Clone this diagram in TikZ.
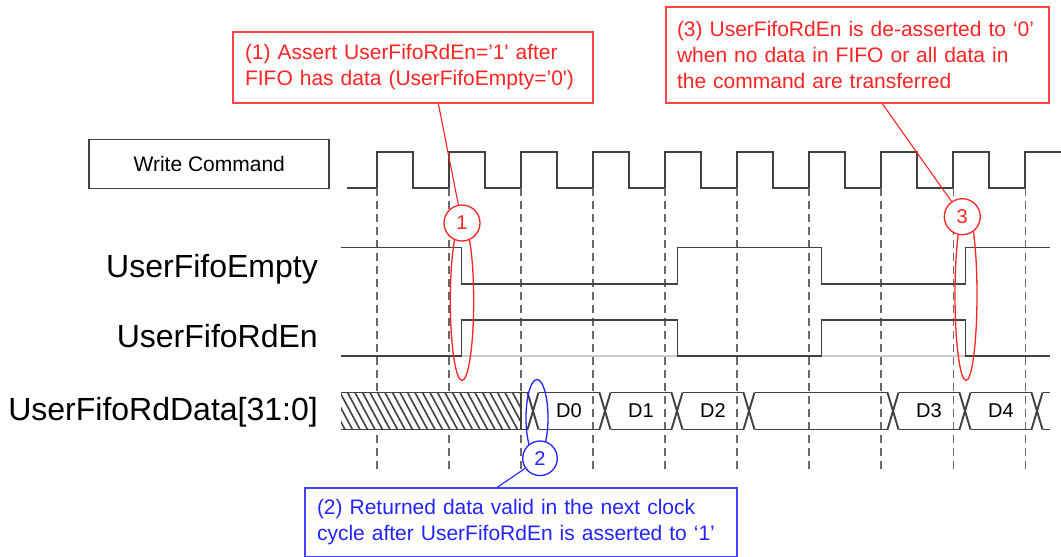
\documentclass[tikz,border=0pt]{standalone}
\usepackage{fontspec}
\setmainfont{Liberation Sans}
\usepackage{tikz}
\usetikzlibrary{shapes.geometric}
\definecolor{notered}{RGB}{255,35,35}
\definecolor{noteblue}{RGB}{35,35,255}
\definecolor{wavegray}{RGB}{65,65,65}
\definecolor{gridgray}{RGB}{105,105,105}
\definecolor{basegray}{RGB}{205,205,205}
\tikzstyle{wave} = [line width=1.9pt, draw=wavegray]
\tikzstyle{edgeline} = [line width=1.6pt, draw=gridgray, dash pattern=on 8pt off 5pt]
\tikzstyle{siglabel} = [anchor=base east, inner sep=0pt, font=\fontsize{32}{38}\selectfont]
\tikzstyle{datalabel} = [font=\fontsize{20}{24}\selectfont]
\tikzstyle{redbox} = [draw=notered!85, line width=1.4pt, text=notered, align=left, font=\fontsize{21}{26}\selectfont]
\tikzstyle{bluebox} = [draw=noteblue!85, line width=1.4pt, text=noteblue, align=left, font=\fontsize{21}{26}\selectfont]

\begin{document}
\begin{tikzpicture}[x=1pt, y=-1pt,
    mark/.style={circle, draw=#1, fill=white, line width=1.3pt, inner sep=0pt, minimum size=36pt, text=#1, font=\fontsize{20}{24}\selectfont},
    loop/.style={ellipse, draw=#1, line width=1.3pt, inner sep=0pt}]
\useasboundingbox (0,0) rectangle (1061,557);

\node[draw=wavegray, line width=1.7pt, minimum width=240pt, minimum height=49pt, font=\fontsize{21}{25}\selectfont] (wrcmd) at (209.25,164) {Write Command};

\node[siglabel] (emptylbl) at (318,277) {UserFifoEmpty};
\node[siglabel] (rdenlbl) at (318,347.5) {UserFifoRdEn};
\node[siglabel] (datalbl) at (318,420) {UserFifoRdData[31:0]};

% clock
\draw[wave] (347,188) \foreach \k in {0,...,8} {
    -- ({377+72.04*\k},188) -- ++(0,-36) -- ++(36,0) -- ++(0,36)
} -- (1025.4,188) -- (1025.4,152) -- (1061,152);
\foreach \k in {0,...,9}
    \draw[edgeline] ({377+72.04*\k},188) -- ++(0,284);

% UserFifoEmpty
\draw[wave] (341,247.5) -- (461.5,247.5) -- (461.5,284) -- (677.5,284) -- (677.5,247.5)
    -- (821.5,247.5) -- (821.5,284) -- (965.5,284) -- (965.5,247.5) -- (1050,247.5);

% UserFifoRdEn
\draw[line width=1.5pt, basegray] (341,356) -- (1050,356);
\draw[wave] (341,356) -- (461.5,356) -- (461.5,320) -- (677.5,320) -- (677.5,356)
    -- (821.5,356) -- (821.5,320) -- (965.5,320) -- (965.5,356) -- (1050,356);

% UserFifoRdData
\fill[white] (341,392.5) rectangle (521,429.5);
\begin{scope}
\clip (341,392.5) rectangle (521,429.5);
\foreach \x in {310,317.5,...,521}
    \draw[line width=1.6pt, wavegray] (\x,392.5) -- ++(20,37);
\end{scope}
\draw[wave] (341,392.5) -- (527.5,392.5);
\draw[wave] (341,429.5) -- (527.5,429.5);
\draw[wave] (521,392.5) -- (521,429.5);
\foreach \t in {533,605,677,749,893,965,1037} {
    \draw[wave] ({\t-5.5},392.5) -- ({\t+5.5},429.5);
    \draw[wave] ({\t-5.5},429.5) -- ({\t+5.5},392.5);
}
\foreach \a/\b in {533/605,605/677,677/749,749/893,893/965,965/1037,1037/1055.5} {
    \draw[wave] ({\a+5.5},392.5) -- ({\b-5.5},392.5);
    \draw[wave] ({\a+5.5},429.5) -- ({\b-5.5},429.5);
}
\node[datalabel] (d0) at (569,411) {D0};
\node[datalabel] (d1) at (641,411) {D1};
\node[datalabel] (d2) at (713,411) {D2};
\node[datalabel] (d3) at (929,411) {D3};
\node[datalabel] (d4) at (1001,411) {D4};

% callouts
\node[loop=notered, minimum width=23.4pt, minimum height=159pt] (e1) at (462,301) {};
\node[loop=noteblue, minimum width=22pt, minimum height=77pt] (e2) at (537,418) {};
\node[loop=notered, minimum width=22pt, minimum height=171pt] (e3) at (966,295) {};
\node[mark=notered] (c1) at (462,223) {1};
\node[mark=noteblue, minimum size=34.6pt] (c2) at (540,458.3) {2};
\node[mark=notered] (c3) at (962.3,216.7) {3};

\node[redbox, text width=336pt, inner xsep=12pt, minimum height=71pt] (note1) at (413,67.5)
    {(1) Assert UserFifoRdEn=’1\textquotesingle{} after\\FIFO has data (UserFifoEmpty=’0\textquotesingle)};
\node[redbox, text width=361pt, inner xsep=11pt, minimum height=96pt] (note3) at (857.5,55)
    {(3) UserFifoRdEn is de-asserted to ‘0’\\when no data in FIFO or all data in\\the command are transferred};
\node[bluebox, text width=408pt, inner xsep=12pt, minimum height=69pt] (note2) at (521,522.5)
    {(2) Returned data valid in the next clock\\cycle after UserFifoRdEn is asserted to ‘1’};

\draw[line width=1.1pt, notered] (note1.-55) -- (c1);
\draw[line width=1.1pt, notered] (note3.-63) -- (c3);
\draw[line width=1.1pt, noteblue] (note2.124) -- (c2);
\end{tikzpicture}
\end{document}
